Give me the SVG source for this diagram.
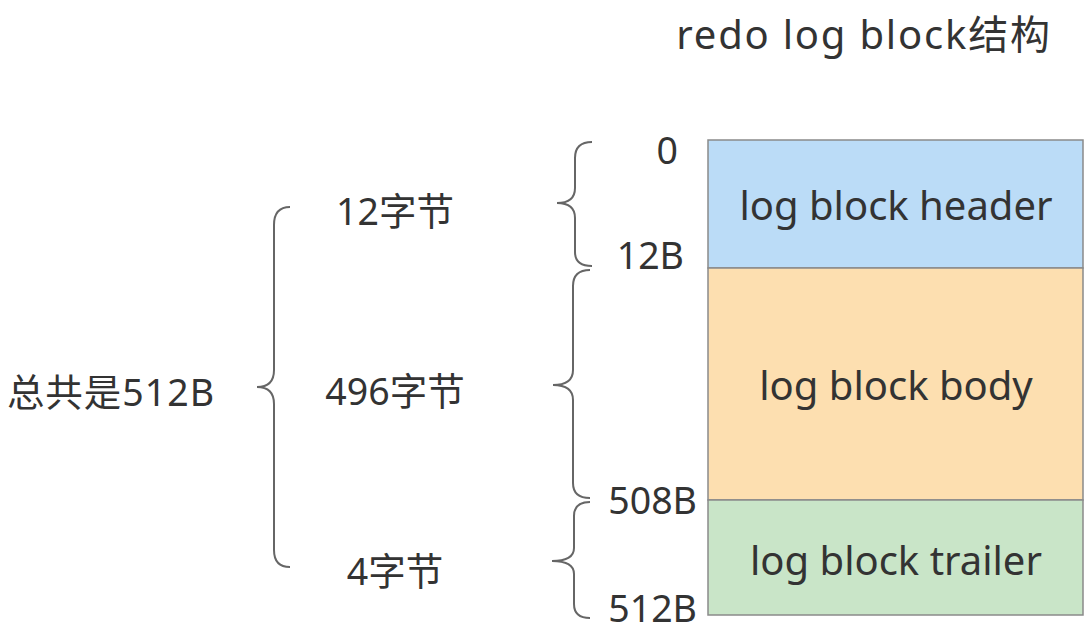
<svg xmlns="http://www.w3.org/2000/svg" width="1092" height="638" viewBox="0 0 1092 638">
<style>
.t{font-family:"Noto Sans","Noto Sans CJK SC",sans-serif;fill:#333;}
.ttl{font-size:40px;letter-spacing:1.8px;}
.big{font-size:40px;}
.lab{font-size:37.5px;}
.box{stroke:#8a8a8a;stroke-width:1.5;}
.br{fill:none;stroke:#666;stroke-width:2;}
</style>
<rect width="1092" height="638" fill="#fff"/>
<text class="t ttl" x="864" y="49" text-anchor="middle">redo log block结构</text>
<g id="header"><rect class="box" x="708" y="140" width="375" height="128" fill="#bbdcf7"/><text class="t big" x="896" y="220" text-anchor="middle">log block header</text></g>
<g id="body"><rect class="box" x="708" y="268" width="375" height="232" fill="#fddfb0"/><text class="t big" x="896" y="400" text-anchor="middle">log block body</text></g>
<g id="trailer"><rect class="box" x="708" y="500" width="375" height="115" fill="#c9e5c8"/><text class="t big" x="896" y="575" text-anchor="middle">log block trailer</text></g>
<g id="offsets">
<text class="t lab" x="678" y="164" text-anchor="end">0</text>
<text class="t lab" x="684" y="269" text-anchor="end">12B</text>
<text class="t lab" x="697" y="514" text-anchor="end">508B</text>
<text class="t lab" x="697" y="622" text-anchor="end">512B</text>
</g>
<g id="sizes">
<text class="t lab" x="395" y="225" text-anchor="middle">12字节</text>
<text class="t lab" x="395" y="405" text-anchor="middle">496字节</text>
<text class="t lab" x="395" y="585" text-anchor="middle">4字节</text>
<text class="t lab" x="111" y="406" text-anchor="middle" letter-spacing="1">总共是512B</text>
</g>
<g id="braces">
<path class="br" d="M592,142 Q575,142 575,158 L575,188 Q575,203 557,203 Q575,203 575,218 L575,252 Q575,266 592,266"/>
<path class="br" d="M590,270 Q573,270 573,286 L573,370 Q573,385 553,385 Q573,385 573,400 L573,483 Q573,498 590,498"/>
<path class="br" d="M590,502 Q574,502 574,516 L574,548 Q574,561 552,561 Q574,561 574,574 L574,604 Q574,618 590,618"/>
<path class="br" d="M290,207 Q274,207 274,225 L274,370 Q274,387 257,387 Q274,387 274,404 L274,550 Q274,567 290,567"/>
</g>
</svg>
